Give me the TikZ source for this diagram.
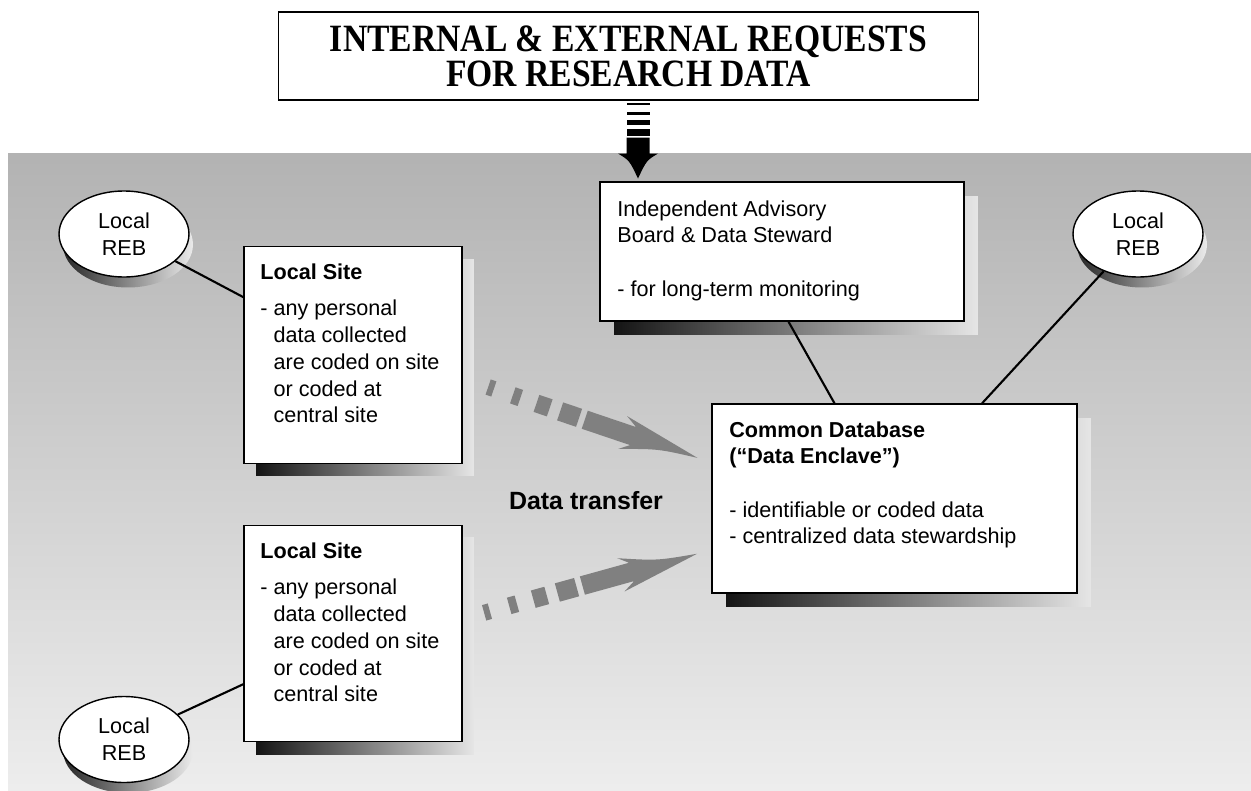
\documentclass[tikz,border=0pt]{standalone}
\usepackage{fontspec}
\setmainfont{Liberation Sans}
\newfontfamily\titlefont[FakeStretch=0.87]{Liberation Serif}
\usetikzlibrary{positioning}
\usetikzlibrary{calc}
\usetikzlibrary{shapes.geometric}
\usetikzlibrary{shadows}
\newcommand{\bodysize}{\fontsize{12.3}{15.2}\selectfont}
\definecolor{xfergray}{RGB}{128,128,128}
\tikzset{
    every node/.style={font=\bodysize},
    titlebox/.style={draw, line width=0.6pt, fill=white, align=center, inner sep=0pt,
        minimum width=14.02cm, minimum height=1.76cm,
        font=\titlefont\bfseries\fontsize{22}{19.9}\selectfont},
    site/.style={draw, line width=0.8pt, fill=white, inner sep=0pt,
        minimum width=4.36cm, minimum height=4.33cm,
        general shadow={left color=black!92, right color=black!10,
            shadow xshift=0.24cm, shadow yshift=-0.25cm}},
    board/.style={draw, line width=0.8pt, fill=white, inner sep=0pt,
        general shadow={left color=black!92, right color=black!10,
            shadow xshift=0.28cm, shadow yshift=-0.28cm}},
    reb/.style={ellipse, draw, line width=0.8pt, fill=white, inner sep=0pt,
        minimum width=2.6cm, minimum height=1.72cm, align=center,
        general shadow={left color=black!85, right color=black!8,
            shadow xshift=0.08cm, shadow yshift=-0.21cm}},
    note/.style={align=left, inner sep=0pt, anchor=north west},
    link/.style={line width=1.2pt},
    xfer/.style={fill=xfergray}
}
% dashed transfer arrow, drawn along +x from the tail
\newcommand{\xferarrow}{
    \foreach \a/\b/\w in {-3/3/8, 23/31/8.5, 48/62/9, 73/93/9.5}
        \fill[xfer] (\a,-\w) -- (\b,-\w) -- (\b,\w) -- (\a,\w) -- cycle;
    \fill[xfer] (99,-9.5) -- (150,-9.5) -- (138,-17) -- (218,0)
        .. controls (178,4) .. (140,17) -- (150,9.5) -- (99,9.5) -- cycle;
}

\begin{document}
\begin{tikzpicture}[x=0.02cm, y=-0.02cm]
    \useasboundingbox (0,0) rectangle (1251,791);
    % backdrop
    \shade[top color=black!30, bottom color=black!7] (8,153) rectangle (1251,791);

    % requests
    \node[titlebox] (req) at (628.5,56) {INTERNAL \& EXTERNAL REQUESTS\\FOR RESEARCH DATA};

    % striped arrow down to the board
    \begin{scope}[shift={(req.south)}]
        \foreach \ya/\yb in {2/4, 11/14, 19/24, 28/35}
            \fill (-2,\ya) rectangle (21,\yb);
        \fill (-2,37) -- (21,37) -- (21,53) -- (29.5,53)
            .. controls (18,60) .. (9.5,78) .. controls (1,60) .. (-10.5,53)
            -- (-2,53) -- cycle;
    \end{scope}

    % transfer arrows
    \begin{scope}[shift={(491,388)}, rotate=-18.7]
        \xferarrow
    \end{scope}
    \begin{scope}[shift={(487,612)}, rotate=15.5, yscale=-1]
        \xferarrow
    \end{scope}
    \node[font=\bfseries\fontsize{14.2}{17}\selectfont, anchor=base] (xferlbl) at (586,509) {Data transfer};

    % boxes
    \node[site] (site1) at (353,355) {};
    \node[site] (site2) at (353,633.5) {};
    \node[board, minimum width=7.28cm, minimum height=2.78cm] (adv) at (782,251.5) {};
    \node[board, minimum width=7.3cm, minimum height=3.78cm] (db) at (894.5,498.5) {};

    % REBs
    \node[reb] (reb1) at (124,234) {Local\\REB};
    \node[reb] (reb2) at (1138,234) {Local\\REB};
    \node[reb] (reb3) at (124,739.5) {Local\\REB};

    % links
    \draw[link] (reb1) -- (site1);
    \draw[link] (reb3) -- (site2);
    \draw[link] (reb2) -- (db);
    \draw[link] ([xshift=0.13cm]adv.south) -- ([xshift=-1.2cm]db.north);

    % box texts
    \node[note] (site1txt) at (260,263) {\textbf{Local Site}\\[5.8pt]
        - any personal\\\phantom{- }data collected\\\phantom{- }are coded on site\\
        \phantom{- }or coded at\\\phantom{- }central site};
    \node[note] (site2txt) at (260,542) {\textbf{Local Site}\\[5.8pt]
        - any personal\\\phantom{- }data collected\\\phantom{- }are coded on site\\
        \phantom{- }or coded at\\\phantom{- }central site};
    \node[note] (advtxt) at (617,200) {Independent Advisory\\Board \& Data Steward\\[15.2pt]
        - for long-term monitoring};
    \node[note] (dbtxt) at (729,421) {\textbf{Common Database}\\\textbf{(“Data Enclave”)}\\[15.2pt]
        - identifiable or coded data\\- centralized data stewardship};
\end{tikzpicture}
\end{document}
